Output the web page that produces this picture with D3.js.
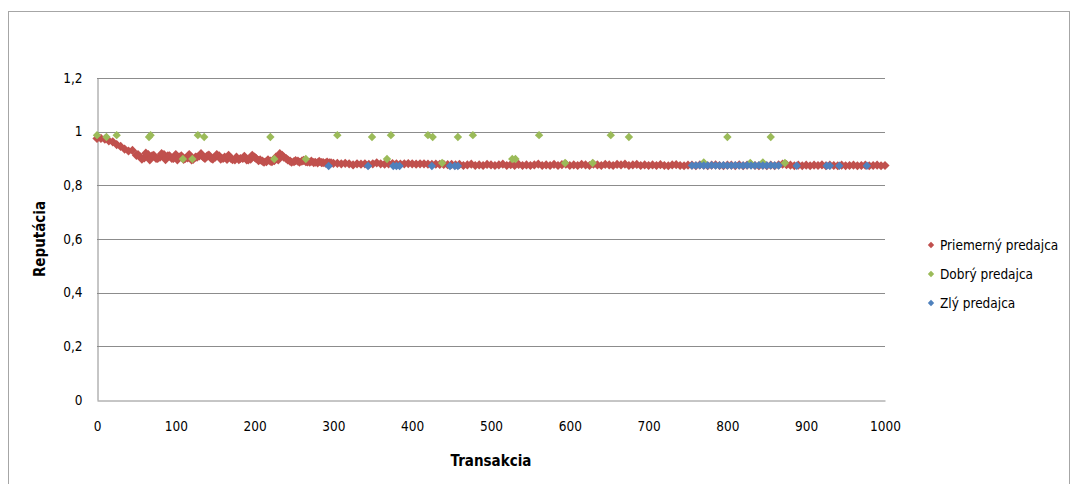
<!DOCTYPE html>
<html>
<head>
<meta charset="utf-8">
<script src="https://cdn.jsdelivr.net/npm/d3@7"></script>
<style>
  html, body { margin: 0; padding: 0; background: #fff; }
  svg { display: block; }
  text { font-family: "DejaVu Sans Condensed", "DejaVu Sans", sans-serif; fill: #000; }
</style>
</head>
<body>
<svg id="chart" width="1073" height="484"></svg>
<script>
// Reputation of sellers over 1000 transactions

// Average seller: one value every 5 transactions, from 0 to 1000
const avgStep = 5;
const avgValues = [
  0.975,0.975,0.972,0.966,0.962,0.952,0.945,0.935,0.928,0.930,0.912,0.905,0.902,
  0.915,0.910,0.900,0.905,0.915,0.910,0.900,0.915,0.905,0.897,0.902,0.895,0.905,0.910,
  0.905,0.910,0.900,0.905,0.910,0.900,0.897,0.900,0.895,0.896,0.900,0.895,0.898,0.905,
  0.892,0.890,0.888,0.890,0.892,0.895,0.912,0.900,0.890,0.888,
  0.890,0.890,0.888,0.886,0.885,0.884,0.885,0.883,0.884,0.882,
  0.882,0.880,0.882,0.880,0.876,0.880,0.879,0.880,0.878,0.880,
  0.884,0.880,0.879,0.880,0.881,0.880,0.879,0.880,0.881,0.880,
  0.879,0.880,0.880,0.879,0.878,0.879,0.878,0.878,0.877,0.878,
  0.876,0.878,0.874,0.876,0.879,0.874,0.876,0.874,0.878,0.876,
  0.874,0.876,0.879,0.874,0.877,0.874,0.878,0.874,0.876,0.874,
  0.876,0.879,0.874,0.876,0.874,0.878,0.874,0.877,0.879,0.874,
  0.876,0.874,0.878,0.876,0.874,0.879,0.876,0.874,0.878,0.876,
  0.874,0.878,0.876,0.879,0.874,0.876,0.878,0.874,0.876,0.874,
  0.876,0.874,0.877,0.874,0.873,0.876,0.877,0.874,0.873,0.875,
  0.875,0.873,0.876,0.875,0.873,0.875,0.876,0.874,0.873,0.875,
  0.875,0.873,0.876,0.873,0.875,0.877,0.874,0.873,0.875,0.873,
  0.875,0.873,0.876,0.879,0.877,0.875,0.873,0.875,0.873,0.875,
  0.873,0.875,0.874,0.876,0.873,0.875,0.874,0.873,0.875,0.873,
  0.874,0.875,0.873,0.874,0.875,0.873,0.874,0.875,0.873,0.874
];

// Average seller, in-between transactions 52..297 (where the values scatter most)
const avgBStart = 52;
const avgBValues = [
  0.915,0.898,0.920,0.895,0.912,0.900,0.918,0.896,0.910,0.900,
  0.895,0.910,0.900,0.915,0.897,0.905,0.918,0.900,0.913,0.898,
  0.915,0.898,0.905,0.912,0.896,0.905,0.900,0.908,0.895,0.912,
  0.900,0.895,0.886,0.895,0.888,0.905,0.918,0.905,0.895,0.886,
  0.892,0.886,0.893,0.887,0.890,0.886,0.889,0.885,0.887,0.884
];

// Good seller
const goodX = [0,12,25,66,68,128,136,220,305,349,373,420,426,458,477,561,652,675,800,855,
               109,121,225,265,368,438,527,531,594,629,770,829,845,873];
const goodValues = [0.987,0.980,0.987,0.980,0.987,0.987,0.980,0.980,0.987,0.980,0.987,0.987,0.980,0.980,0.987,0.987,0.987,0.980,0.980,0.980,
                    0.898,0.898,0.898,0.898,0.898,0.883,0.898,0.898,0.883,0.883,0.885,0.883,0.885,0.883];

// Bad seller
const badX = [294,344,376,380,384,425,448,454,458,
              755,760,765,770,775,780,785,790,795,800,805,810,815,820,825,830,835,840,845,850,855,860,865,
              888,926,930,942,977];
const badValues = [0.872,0.872,0.872,0.872,0.872,0.872,0.872,0.872,0.872,
                   0.874,0.874,0.875,0.874,0.874,0.875,0.874,0.874,0.875,0.874,0.874,0.875,0.874,0.874,0.875,0.874,0.874,0.875,0.874,0.874,0.875,0.874,0.874,
                   0.873,0.873,0.873,0.873,0.873];

const seriesNames = ["Priemerný predajca", "Dobrý predajca", "Zlý predajca"];
const seriesColors = ["#C0504D", "#9BBB59", "#4F81BD"];
const markerRadius = [4.6, 4.2, 4.2];
const xTicks = [0,100,200,300,400,500,600,700,800,900,1000];
const yTicks = [0,0.2,0.4,0.6,0.8,1,1.2];

const svg = d3.select("#chart");

// outer chart frame (bottom edge runs past the canvas)
svg.append("rect")
  .attr("x", 8.5).attr("y", 11.5)
  .attr("width", 1061).attr("height", 480)
  .attr("fill", "#fff").attr("stroke", "#a6a6a6").attr("stroke-width", 1);

const plot = { left: 97, right: 885, top: 78, bottom: 400 };

const x = d3.scaleLinear().domain([0, 1000]).range([plot.left, plot.right]);
const y = d3.scaleLinear().domain([0, 1.2]).range([plot.bottom, plot.top]);

const fmt = v => d3.format("")(+v.toFixed(1)).replace(".", ",");

// horizontal gridlines
svg.append("g")
  .selectAll("line")
  .data(yTicks.slice(1))
  .join("line")
  .attr("x1", plot.left).attr("x2", plot.right)
  .attr("y1", d => Math.round(y(d)) + 0.5).attr("y2", d => Math.round(y(d)) + 0.5)
  .attr("stroke", "#8c8c8c").attr("stroke-width", 1);

// axes
const xAxis = d3.axisBottom(x).tickValues(xTicks).tickSize(0).tickPadding(21).tickFormat(d3.format("d"));
const yAxis = d3.axisLeft(y).tickValues(yTicks).tickSize(0).tickPadding(15).tickFormat(fmt);

const gx = svg.append("g").attr("transform", `translate(0,${plot.bottom + 0.5})`).call(xAxis);
const gy = svg.append("g").attr("transform", `translate(${plot.left + 0.5},0)`).call(yAxis);
[gx, gy].forEach(g => {
  g.select(".domain").attr("stroke", "#8c8c8c");
  g.selectAll("text").style("font-size", "13.5px").style("font-family", "'DejaVu Sans Condensed','DejaVu Sans',sans-serif").attr("fill", "#000");
});

// axis titles
svg.append("text")
  .attr("x", (plot.left + plot.right) / 2).attr("y", 466)
  .attr("text-anchor", "middle")
  .style("font-size", "15px").style("font-weight", "bold")
  .text("Transakcia");

svg.append("text")
  .attr("transform", `translate(45,${(plot.top + plot.bottom) / 2}) rotate(-90)`)
  .attr("text-anchor", "middle")
  .style("font-size", "15px").style("font-weight", "bold")
  .text("Reputácia");

// diamond marker
const diamond = r => `M0,${-r}L${r},0L0,${r}L${-r},0Z`;

const avgPoints = avgValues.map((v, i) => ({ t: i * avgStep, v }))
  .concat(avgBValues.map((v, i) => ({ t: avgBStart + i * avgStep, v })));
const goodPoints = goodX.map((t, i) => ({ t, v: goodValues[i] }));
const badPoints = badX.map((t, i) => ({ t, v: badValues[i] }));

[avgPoints, goodPoints, badPoints].forEach((pts, si) => {
  svg.append("g")
    .selectAll("path")
    .data(pts)
    .join("path")
    .attr("d", diamond(markerRadius[si]))
    .attr("transform", d => `translate(${x(d.t)},${y(d.v)})`)
    .attr("fill", seriesColors[si]);
});

// legend
const legend = svg.append("g");
seriesNames.forEach((name, i) => {
  const ly = 245 + i * 29;
  legend.append("path")
    .attr("d", diamond(3.2))
    .attr("transform", `translate(931,${ly})`)
    .attr("fill", seriesColors[i]);
  legend.append("text")
    .attr("x", 940).attr("y", ly)
    .attr("dy", "0.35em")
    .style("font-size", "13.5px")
    .text(name);
});
</script>
</body>
</html>
